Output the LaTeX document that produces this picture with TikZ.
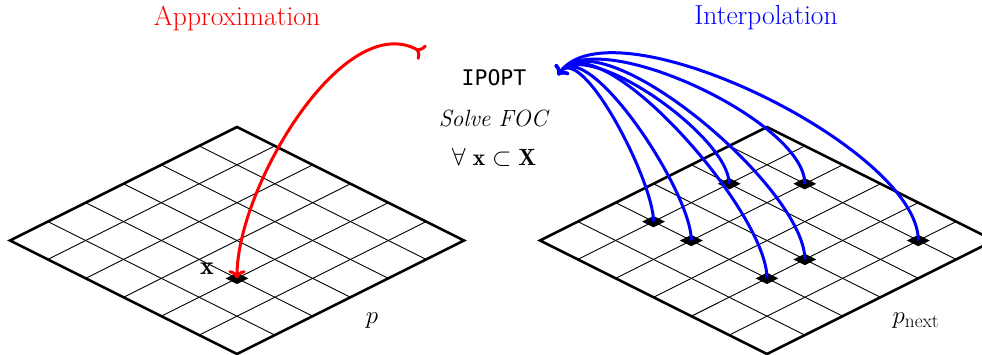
\documentclass[tikz,border=0pt]{standalone}
\usepackage{fontspec}
\newfontfamily\ipoptfont{DejaVu Sans Mono}
\usetikzlibrary{arrows.meta,shapes.geometric}
\begin{document}
\begin{tikzpicture}[x=1pt,y=-1pt,
  gridborder/.style={line width=2.6pt, line join=miter},
  gridline/.style={line width=0.9pt},
  marker/.style={diamond, aspect=2, fill=black, inner sep=0pt, minimum width=23pt, minimum height=11.5pt},
  gridscope/.style={x={(37.83pt,-18.92pt)}, y={(-37.83pt,-18.92pt)}},
  redarrow/.style={red, line width=3pt, {To[reversed]}-{To}},
  bluearrow/.style={blue, line width=3pt, -{To}, out=90, in=55, looseness=0.6},
  big/.style={font=\fontsize{27.5}{32}\selectfont},
  mid/.style={font=\fontsize{23.5}{28}\selectfont}
]
\useasboundingbox (0,0) rectangle (982,355);

% left grid
\begin{scope}[shift={(237pt,-127pt)}, gridscope]
  \foreach \k in {1,...,5} {
    \draw[gridline] (\k,0) -- (\k,6);
    \draw[gridline] (0,\k) -- (6,\k);
  }
  \draw[gridborder] (0,0) -- (6,0) -- (6,6) -- (0,6) -- cycle;
  \node[marker] (xm) at (4,4) {};
\end{scope}

% right grid
\begin{scope}[shift={(767pt,-127pt)}, gridscope]
  \foreach \k in {1,...,5} {
    \draw[gridline] (\k,0) -- (\k,6);
    \draw[gridline] (0,\k) -- (6,\k);
  }
  \draw[gridborder] (0,0) -- (6,0) -- (6,6) -- (0,6) -- cycle;
  \node[marker] (b1) at (1,4) {};
  \node[marker] (b2) at (2,4) {};
  \node[marker] (b3) at (1,2) {};
  \node[marker] (b4) at (2,1) {};
  \node[marker] (b5) at (4,3) {};
  \node[marker] (b6) at (4,4) {};
  \node[marker] (b7) at (5,1) {};
\end{scope}

% texts
\node[big, text=red] (approx) at (237,18) {Approximation};
\node[big, text=blue] (interp) at (766,18) {Interpolation};
\node[font=\ipoptfont\fontsize{21.5}{25}\selectfont] (ipopt) at (494,78) {IPOPT};
\node[mid] (foc) at (493,118) {\itshape Solve FOC};
\node[mid] (forall) at (494,157) {$\forall~\mathbf{x}\subset\mathbf{X}$};
\node[font=\fontsize{26}{30}\selectfont] (xlabel) at (207,269) {$\mathbf{x}$};
\node[big] (plabel) at (372,321) {$p$};
\node[big] (pnext) at (916,321) {$p_{\mathrm{next}}$};

% connectors
\coordinate (rstart) at (423,53);
\coordinate (bend) at (558,75);
\draw[redarrow] (rstart) to[out=150, in=90, looseness=0.8] (xm.center);
\foreach \n in {b1,b2,b3,b4,b5,b6,b7} {
  \draw[bluearrow] (\n.center) to (bend);
}
\end{tikzpicture}
\end{document}
